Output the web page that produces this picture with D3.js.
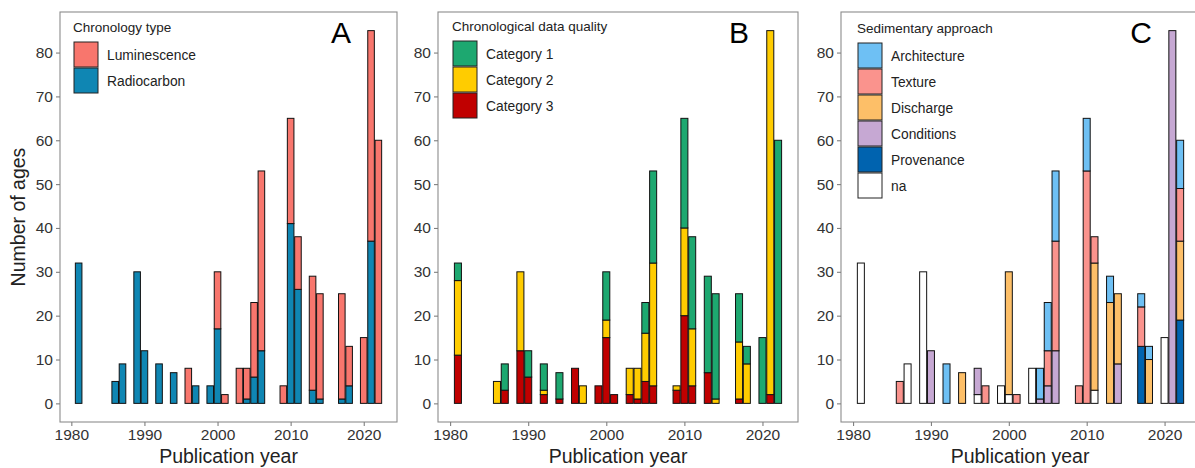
<!DOCTYPE html>
<html>
<head>
<meta charset="utf-8">
<script src="https://cdn.jsdelivr.net/npm/d3@7"></script>
<style>
  body { margin: 0; background: #fff; }
  svg text { font-family: "Liberation Sans", Arial, sans-serif; }
</style>
</head>
<body>
<div id="chart"></div>
<script>
// years with at least one age
const years = [1981,1986,1987,1989,1990,1992,1994,1996,1997,1999,2000,2001,2003,2004,2005,2006,2009,2010,2011,2013,2014,2017,2018,2020,2021,2022];

// panel A - chronology type (bottom to top)
const radiocarbon  = [32,5,9,30,12,9,7,0,4,4,17,0,0,1,6,12,0,41,26,3,1,1,4,0,37,0];
const luminescence = [0,0,0,0,0,0,0,8,0,0,13,2,8,7,17,41,4,24,12,26,24,24,9,15,48,60];

// panel B - chronological data quality (bottom to top)
const category3 = [11,0,3,12,6,2,1,8,0,4,15,2,2,1,5,4,3,20,4,7,0,1,0,0,2,0];
const category2 = [17,5,0,18,0,1,0,0,4,0,4,0,6,7,11,28,1,20,13,0,1,13,9,0,83,0];
const category1 = [4,0,6,0,6,6,6,0,0,0,11,0,0,0,7,21,0,25,21,22,24,11,4,15,0,60];

// panel C - sedimentary approach (bottom to top)
const na           = [32,0,9,30,0,0,0,2,0,4,2,0,8,0,0,0,0,0,3,0,0,0,0,15,0,0];
const provenance   = [0,0,0,0,0,0,0,0,0,0,0,0,0,0,0,0,0,0,0,0,0,13,0,0,0,19];
const conditions   = [0,0,0,0,12,0,0,6,0,0,0,0,0,1,4,12,0,0,0,0,9,0,0,0,85,0];
const discharge    = [0,0,0,0,0,0,7,0,0,0,28,0,0,0,0,0,0,0,29,23,16,0,10,0,0,18];
const texture      = [0,5,0,0,0,0,0,0,4,0,0,2,0,0,8,25,4,53,6,0,0,9,0,0,0,12];
const architecture = [0,0,0,0,0,9,0,0,0,0,0,0,0,7,11,16,0,12,0,6,0,3,3,0,0,11];

const xTicks = [1980,1990,2000,2010,2020];
const yTicks = [0,10,20,30,40,50,60,70,80];

const W = 1195, H = 468;
const svg = d3.select("#chart").append("svg").attr("width", W).attr("height", H);

const plotTop = 12, plotBottom = 422;
const y = d3.scaleLinear().domain([-4.25, 89.25]).range([plotBottom, plotTop]);

const panels = [
  { left: 60, right: 397, letter: "A", letterX: 341, title: "Chronology type",
    keys: ["Radiocarbon","Luminescence"], series: [radiocarbon, luminescence],
    colors: ["#0F86B3","#F8766D"], legendOrder: ["Luminescence","Radiocarbon"],
    legX: 74, legY: 42, titleY: 32 },
  { left: 438, right: 798, letter: "B", letterX: 739, title: "Chronological data quality",
    keys: ["Category 3","Category 2","Category 1"], series: [category3, category2, category1],
    colors: ["#C00000","#FFCC00","#1DA870"], legendOrder: ["Category 1","Category 2","Category 3"],
    legX: 453, legY: 41, titleY: 31 },
  { left: 841, right: 1200, letter: "C", letterX: 1141, title: "Sedimentary approach",
    keys: ["na","Provenance","Conditions","Discharge","Texture","Architecture"],
    series: [na, provenance, conditions, discharge, texture, architecture],
    colors: ["#FFFFFF","#0063AF","#C6A8D3","#FDBF68","#FA938D","#6EC0F4"],
    legendOrder: ["Architecture","Texture","Discharge","Conditions","Provenance","na"],
    legX: 858, legY: 43, titleY: 33 }
];

panels.forEach(p => {
  const g = svg.append("g");
  const x = d3.scaleLinear().domain([1978.45, 2024.55]).range([p.left, p.right]);
  const bw = x(1980.9) - x(1980);

  // rows for d3.stack
  const rows = years.map((yr, i) => {
    const r = { year: yr };
    p.keys.forEach((k, j) => r[k] = p.series[j][i]);
    return r;
  });
  const stacked = d3.stack().keys(p.keys)(rows);
  const color = d3.scaleOrdinal().domain(p.keys).range(p.colors);

  stacked.forEach(layer => {
    g.append("g").selectAll("rect")
      .data(layer.filter(d => d[1] - d[0] > 0))
      .enter().append("rect")
      .attr("x", d => x(d.data.year) - bw / 2)
      .attr("y", d => y(d[1]))
      .attr("width", bw)
      .attr("height", d => y(d[0]) - y(d[1]))
      .style("fill", color(layer.key))
      .style("stroke", "#111")
      .style("stroke-width", 1);
  });

  // panel border
  g.append("rect")
    .attr("x", p.left).attr("y", plotTop)
    .attr("width", p.right - p.left).attr("height", plotBottom - plotTop)
    .style("fill", "none").style("stroke", "#8c8c8c").style("stroke-width", 1.1);

  // axes
  const xAxis = g.append("g").attr("transform", "translate(0," + plotBottom + ")")
    .call(d3.axisBottom(x).tickValues(xTicks).tickFormat(d3.format("d")).tickSize(4).tickPadding(3));
  const yAxis = g.append("g").attr("transform", "translate(" + p.left + ",0)")
    .call(d3.axisLeft(y).tickValues(yTicks).tickSize(4).tickPadding(3));
  [xAxis, yAxis].forEach(a => {
    a.select(".domain").remove();
    a.selectAll("line").style("stroke", "#7f7f7f").style("stroke-width", 1.1);
    a.selectAll("text").style("font-size", "15.5px").style("fill", "#333");
  });

  g.append("text")
    .attr("x", (p.left + Math.min(p.right, W)) / 2 + (p.letter === "C" ? 2 : 0))
    .attr("y", 463)
    .attr("text-anchor", "middle")
    .style("font-size", "19.5px").style("fill", "#222")
    .text("Publication year");

  // panel letter
  g.append("text")
    .attr("x", p.letterX).attr("y", 43)
    .attr("text-anchor", "middle")
    .style("font-size", "30px").style("fill", "#000")
    .text(p.letter);

  // legend
  g.append("text")
    .attr("x", p.legX - 1).attr("y", p.titleY)
    .style("font-size", "13.5px").style("fill", "#222")
    .text(p.title);
  const step = 26;
  p.legendOrder.forEach((k, i) => {
    g.append("rect")
      .attr("x", p.legX).attr("y", p.legY + i * step)
      .attr("width", 24).attr("height", step - 1)
      .style("fill", color(k)).style("stroke", "#222").style("stroke-width", 1);
    g.append("text")
      .attr("x", p.legX + 33).attr("y", p.legY + i * step + step / 2)
      .attr("dy", "0.35em")
      .style("font-size", "13.8px").style("fill", "#222")
      .text(k);
  });
});

// y-axis title (panel A only)
svg.append("text")
  .attr("transform", "translate(25," + (plotTop + plotBottom) / 2 + ") rotate(-90)")
  .attr("text-anchor", "middle")
  .style("font-size", "19.5px").style("fill", "#222")
  .text("Number of ages");
</script>
</body>
</html>
